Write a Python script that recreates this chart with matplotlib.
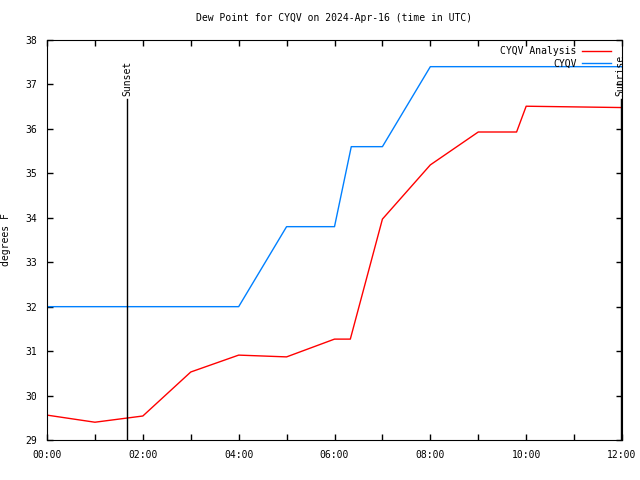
import matplotlib
matplotlib.use("Agg")
import matplotlib.pyplot as plt
from matplotlib.ticker import MultipleLocator, FuncFormatter

plt.rcParams['font.family'] = ['DejaVu Sans Mono']
plt.rcParams['font.size'] = 7

# hours since 00:00 UTC
analysis_hours = [0, 1, 2, 3, 4, 5, 6, 6.33, 7, 8, 9, 9.8, 10, 12]
analysis_vals = [29.56, 29.40, 29.54, 30.53, 30.91, 30.87, 31.27, 31.27, 33.97, 35.19, 35.93, 35.93, 36.51, 36.48]

obs_hours = [0, 4, 5, 6, 6.35, 7, 8, 12]
obs_vals = [32.0, 32.0, 33.8, 33.8, 35.6, 35.6, 37.4, 37.4]

sunset_hour = 1.67
sunrise_hour = 11.97
marker_top = 36.67

fig = plt.figure(figsize=(6.4, 4.8), dpi=100)
ax = fig.add_axes([47/640, 40/480, 575/640, 400/480])

ax.plot(analysis_hours, analysis_vals, color='#ff0000', lw=1, label='CYQV Analysis')
ax.plot(obs_hours, obs_vals, color='#0080ff', lw=1, label='CYQV')

ax.plot([sunset_hour, sunset_hour], [29, marker_top], color='black', lw=1)
ax.plot([sunrise_hour, sunrise_hour], [29, marker_top], color='black', lw=1)
ax.text(sunset_hour, marker_top + 0.08, 'Sunset', rotation=90, ha='center', va='bottom', fontsize=7)
ax.text(sunrise_hour, marker_top + 0.08, 'Sunrise', rotation=90, ha='center', va='bottom', fontsize=7)

ax.set_xlim(0, 12)
ax.set_ylim(29, 38)
ax.xaxis.set_major_locator(MultipleLocator(2))
ax.xaxis.set_minor_locator(MultipleLocator(1))
ax.xaxis.set_major_formatter(FuncFormatter(lambda v, p: f"{int(round(v)):02d}:00"))
ax.yaxis.set_major_locator(MultipleLocator(1))
ax.tick_params(which='both', direction='in', top=True, right=True, length=4, width=1)
ax.tick_params(axis='both', labelsize=7, pad=7)

ax.set_title('Dew Point for CYQV on 2024-Apr-16 (time in UTC)', fontsize=7, pad=14)
ax.set_ylabel('degrees F', fontsize=7)
ax.yaxis.set_label_coords(-0.062, 0.5)

ax.legend(loc='upper right', bbox_to_anchor=(0.985, 0.99), frameon=False,
          markerfirst=False, fontsize=7, handlelength=3, handletextpad=0.6,
          borderaxespad=0.0, borderpad=0.2, labelspacing=0.3)
for lbl in ax.get_legend().get_texts():
    lbl.set_ha('right')

fig.savefig('out.png', dpi=100)
